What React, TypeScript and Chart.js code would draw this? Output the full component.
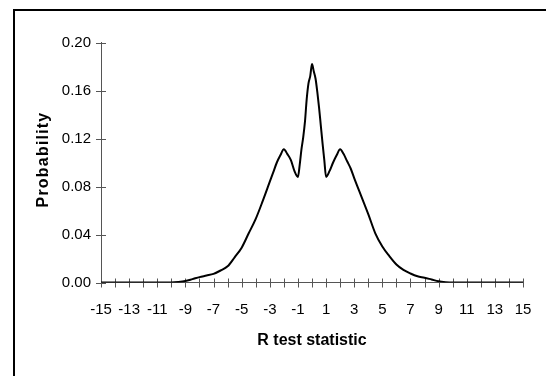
import React, { useEffect, useRef } from "react";
import { Chart, registerables } from "chart.js";

Chart.register(...registerables);

const xValues: number[] = [
  -15, -14, -13, -12, -11, -10, -9.5, -9, -8.5, -8, -7.5, -7, -6.5, -6, -5.5, -5, -4.5, -4, -3.5, -3,
  -2.75, -2.5, -2.25, -2, -1.75, -1.5, -1.25, -1, -0.875, -0.75, -0.625, -0.5, -0.375, -0.25, -0.125,
  0, 0.125, 0.25, 0.375, 0.5, 0.625, 0.75, 0.875, 1, 1.25, 1.5, 1.75, 2, 2.25, 2.5, 2.75, 3,
  3.5, 4, 4.5, 5, 5.5, 6, 6.5, 7, 7.5, 8, 8.5, 9, 9.5, 10, 11, 12, 13, 14, 15,
];
const probability: number[] = [
  0, 0, 0, 0, 0, 0, 0.0004, 0.0012, 0.0028, 0.0045, 0.0058, 0.0072, 0.010, 0.0135, 0.021, 0.029, 0.041, 0.053, 0.068, 0.084,
  0.092, 0.100, 0.106, 0.111, 0.107, 0.102, 0.093, 0.088, 0.098, 0.111, 0.121, 0.134, 0.153, 0.166, 0.172,
  0.182, 0.176, 0.170, 0.159, 0.146, 0.131, 0.116, 0.102, 0.088, 0.093, 0.100, 0.106, 0.111, 0.107, 0.101, 0.095, 0.087,
  0.072, 0.057, 0.041, 0.030, 0.022, 0.015, 0.0105, 0.0075, 0.0052, 0.004, 0.0025, 0.001, 0.0003, 0, 0, 0, 0, 0, 0,
];
const xTickLabels: number[] = [-15, -13, -11, -9, -7, -5, -3, -1, 1, 3, 5, 7, 9, 11, 13, 15];
const yTickValues: number[] = [0, 0.04, 0.08, 0.12, 0.16, 0.2];
const xTitle = "R test statistic";
const yTitle = "Probability";

const AXIS_COLOR = "#555555";
const FONT = "'Liberation Sans', Arial, sans-serif";

const crossTicks = {
  id: "crossTicks",
  beforeDatasetsDraw(chart: any) {
    const { ctx, chartArea, scales } = chart;
    const xs = scales.x;
    const ys = scales.y;
    ctx.save();
    ctx.strokeStyle = AXIS_COLOR;
    ctx.lineWidth = 1;
    ctx.beginPath();
    for (let v = -15; v <= 15; v++) {
      const px = Math.round(xs.getPixelForValue(v)) + 0.5;
      ctx.moveTo(px, chartArea.bottom - 4);
      ctx.lineTo(px, chartArea.bottom + 5);
    }
    for (const v of yTickValues) {
      const py = Math.round(ys.getPixelForValue(v)) + 0.5;
      ctx.moveTo(chartArea.left - 5, py);
      ctx.lineTo(chartArea.left + 5, py);
    }
    ctx.stroke();
    ctx.restore();
  },
};

const yTitlePlugin = {
  id: "yTitlePlugin",
  afterDraw(chart: any) {
    const { ctx, chartArea } = chart;
    ctx.save();
    ctx.translate(43.5, (chartArea.top + chartArea.bottom) / 2 - 3);
    ctx.rotate(-Math.PI / 2);
    ctx.font = `bold 16px ${FONT}`;
    try {
      (ctx as any).letterSpacing = "1.2px";
    } catch (e) {}
    ctx.fillStyle = "#000";
    ctx.textAlign = "center";
    ctx.textBaseline = "middle";
    ctx.fillText(yTitle, 0, 0);
    ctx.restore();
  },
};

export default function App() {
  const canvasRef = useRef<HTMLCanvasElement | null>(null);

  useEffect(() => {
    if (!canvasRef.current) return;
    const chart = new Chart(canvasRef.current, {
      type: "line",
      data: {
        datasets: [
          {
            data: xValues.map((x, i) => ({ x, y: probability[i] })),
            borderColor: "#000000",
            borderWidth: 2,
            pointRadius: 0,
            cubicInterpolationMode: "monotone",
            fill: false,
          },
        ],
      },
      options: {
        animation: false,
        responsive: false,
        devicePixelRatio: 1,
        layout: { padding: { left: 0, top: 42.5, right: 23, bottom: 0 } },
        plugins: { legend: { display: false }, tooltip: { enabled: false } },
        scales: {
          x: {
            type: "linear",
            min: -15,
            max: 15,
            afterFit: (s: any) => {
              s.height = 93.5;
              s.paddingLeft = 0;
              s.paddingRight = 0;
            },
            ticks: {
              stepSize: 1,
              autoSkip: false,
              maxRotation: 0,
              padding: 18,
              color: "#000",
              font: { family: FONT, size: 15 },
              callback: (v: any) => (xTickLabels.includes(Number(v)) ? String(v) : ""),
            },
            grid: { display: true, drawOnChartArea: false, drawTicks: false },
            border: { display: true, color: AXIS_COLOR, width: 1 },
            title: {
              display: true,
              text: xTitle,
              color: "#000",
              font: { family: FONT, size: 16, weight: "bold" },
              padding: { top: 0, bottom: 26 },
            },
          },
          y: {
            type: "linear",
            min: 0,
            max: 0.2,
            afterFit: (s: any) => {
              s.width = 101;
              s.paddingTop = 0;
              s.paddingBottom = 0;
            },
            ticks: {
              stepSize: 0.04,
              padding: 10,
              color: "#000",
              font: { family: FONT, size: 15 },
              callback: (v: any) => Number(v).toFixed(2),
            },
            grid: { display: true, drawOnChartArea: false, drawTicks: false },
            border: { display: true, color: AXIS_COLOR, width: 1 },
            title: { display: false, text: yTitle },
          },
        },
      },
      plugins: [crossTicks, yTitlePlugin],
    });
    return () => chart.destroy();
  }, []);

  return (
    <div
      style={{
        position: "fixed",
        left: 0,
        top: 0,
        width: 546,
        height: 376,
        background: "#fff",
        overflow: "hidden",
      }}
    >
      <canvas ref={canvasRef} width={546} height={376} style={{ display: "block", width: 546, height: 376 }} />
      <div
        style={{
          position: "absolute",
          left: 12.5,
          top: 9,
          width: 600,
          height: 400,
          borderLeft: "2px solid #000",
          borderTop: "2px solid #000",
          pointerEvents: "none",
        }}
      />
    </div>
  );
}
